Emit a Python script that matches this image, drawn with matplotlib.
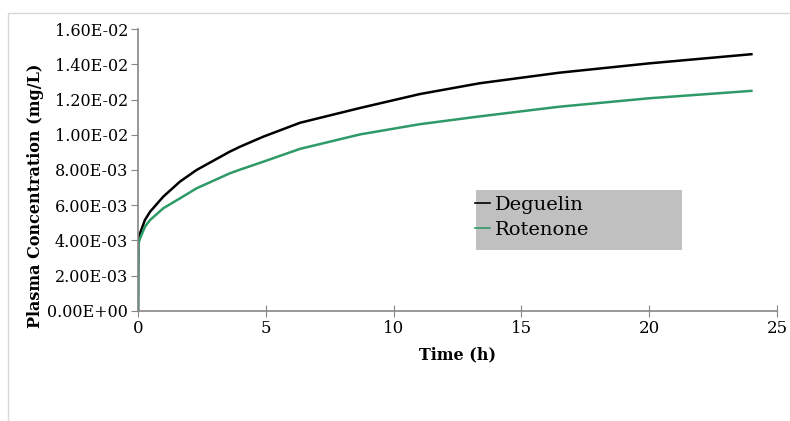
import numpy as np
import matplotlib.pyplot as plt
from matplotlib.ticker import FormatStrFormatter
from matplotlib.patches import Rectangle

# values
time_h = [0, 0.01, 0.08, 0.27, 0.47, 0.99, 1.64, 2.29, 3.59, 3.99, 4.9, 6.34,
          8.69, 11.03, 13.36, 16.48, 20.0, 24.0]
deguelin = [0, 4.0e-3, 4.41e-3, 5.16e-3, 5.63e-3, 6.49e-3, 7.34e-3, 8.0e-3,
            9.04e-3, 9.32e-3, 9.89e-3, 10.68e-3, 11.52e-3, 12.31e-3, 12.92e-3,
            13.52e-3, 14.05e-3, 14.57e-3]
rotenone = [0, 3.8e-3, 4.12e-3, 4.78e-3, 5.16e-3, 5.83e-3, 6.39e-3, 6.96e-3,
            7.81e-3, 8.02e-3, 8.47e-3, 9.2e-3, 10.02e-3, 10.6e-3, 11.04e-3,
            11.59e-3, 12.07e-3, 12.49e-3]

plt.rcParams['font.family'] = ['DejaVu Serif']

fig = plt.figure(figsize=(7.9, 4.21), dpi=100)
ax = fig.add_axes([0.1747, 0.2613, 0.8088, 0.6698])

ax.plot(time_h, deguelin, color='black', lw=1.8, label='Deguelin')
ax.plot(time_h, rotenone, color='#2e9a68', lw=1.8, label='Rotenone')

ax.set_xlim(0, 25)
ax.set_ylim(0, 0.016)
ax.set_xticks(np.arange(0, 26, 5))
ax.set_yticks(np.arange(0, 0.0161, 0.002))
ax.yaxis.set_major_formatter(FormatStrFormatter('%.2E'))

for s in ['top', 'right']:
    ax.spines[s].set_visible(False)
for s in ['left', 'bottom']:
    ax.spines[s].set_color('#868686')
    ax.spines[s].set_linewidth(1.2)
ax.tick_params(axis='x', direction='inout', length=9, color='#868686',
               labelsize=12, pad=2)
ax.tick_params(axis='y', direction='out', length=5, color='#868686',
               labelsize=11.5, pad=2)

ax.set_xlabel('Time (h)', fontsize=11.5, fontweight='bold', labelpad=7)
ax.set_ylabel('Plasma Concentration (mg/L)', fontsize=11.5, fontweight='bold')
ax.yaxis.set_label_coords(-0.147, 0.41)

# grey legend backdrop, wider than the entries like the original
ax.add_patch(Rectangle((0.529, 0.216), 0.322, 0.213, transform=ax.transAxes,
                       facecolor='#c0c0c0', edgecolor='none', zorder=3))
leg = ax.legend(loc='upper left', bbox_to_anchor=(0.527, 0.408),
                frameon=False, fontsize=14, handlelength=0.8,
                handletextpad=0.25, borderpad=0.0, borderaxespad=0.0,
                labelspacing=0.35)
leg.set_zorder(4)
for line in leg.get_lines():
    line.set_linewidth(1.2)

# light outer chart border
fig.patches.append(Rectangle((8 / 790, -0.1), 1.2, 1 - 13 / 421 + 0.1,
                             transform=fig.transFigure, fill=False,
                             edgecolor='#d9d9d9', lw=1))

fig.savefig('out.png', dpi=100)
